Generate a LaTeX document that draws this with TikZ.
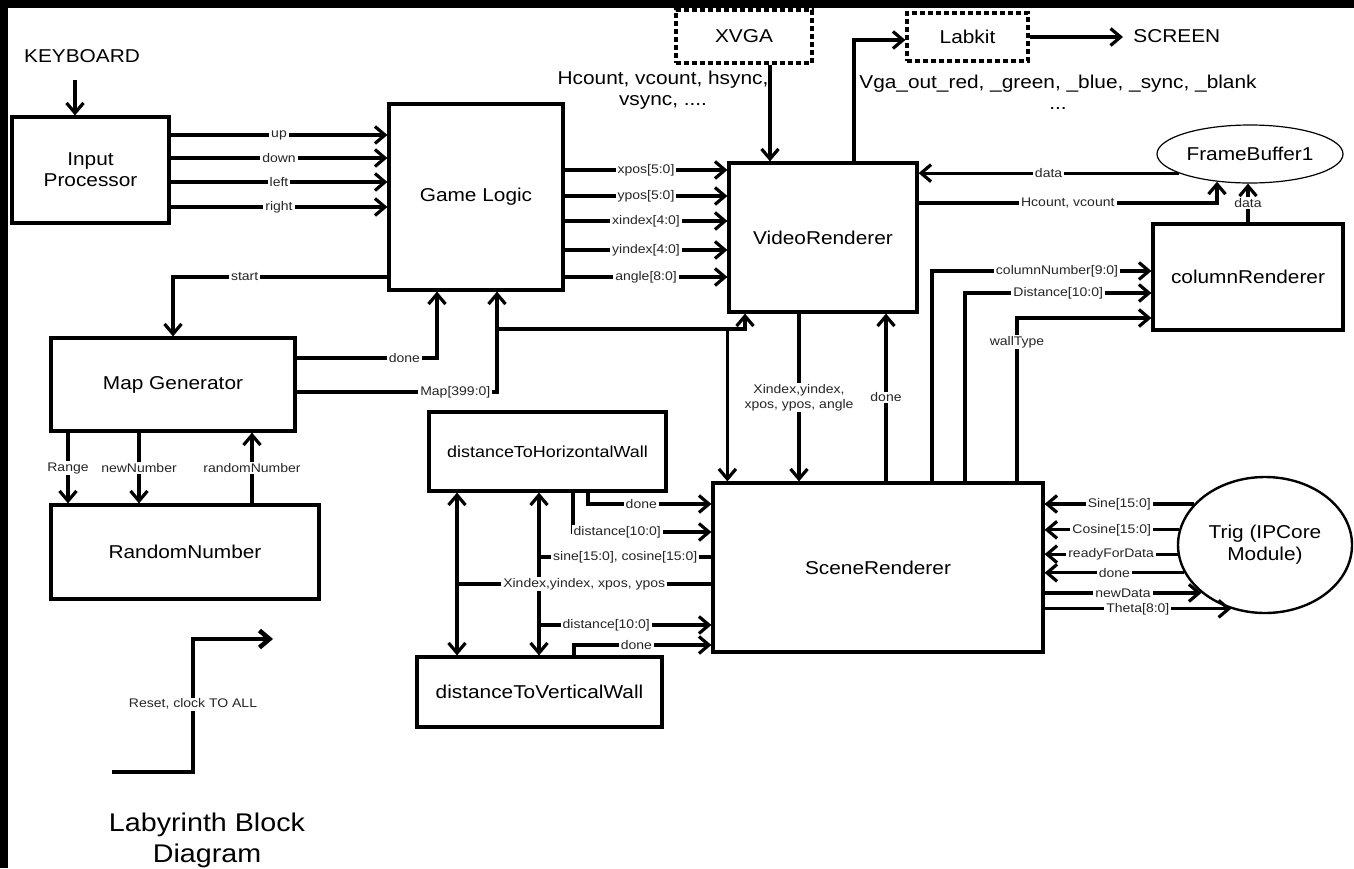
\documentclass[tikz,border=0pt]{standalone}
\usepackage{fontspec}
\setmainfont{Liberation Sans}[FakeStretch=1.12]
\usetikzlibrary{arrows.meta,shapes.geometric}
\newcommand\fbig{\fontsize{9.3}{10.5}\selectfont}
\newcommand\fsmall{\fontsize{6.25}{7.5}\selectfont}
\tikzset{
  box/.style={draw, line width=1.6pt, inner sep=0pt, align=center, font=\fbig},
  dbox/.style={draw, line width=1.6pt, dash pattern=on 2.5pt off 1.5pt, inner sep=0pt, font=\fbig},
  txt/.style={inner sep=0pt, font=\fbig},
  lab/.style={fill=white, inner xsep=1pt, inner ysep=0.6pt, font=\fsmall, text=black!85},
  arr/.style={line width=1.6pt, -{Straight Barb[length=5pt,width=8.5pt]}},
  dblarr/.style={line width=1.6pt, {Straight Barb[length=5pt,width=8.5pt]}-{Straight Barb[length=5pt,width=8.5pt]}},
  wire/.style={line width=1.6pt},
}
\begin{document}
\begin{tikzpicture}[x=0.5pt,y=-0.5pt]
\fill[white] (0,0) rectangle (1354,868);
\useasboundingbox (0,0) rectangle (1354,868);
\fill[black] (0,0) rectangle (1354,8);
\fill[black] (0,0) rectangle (8,868);

% blocks
\node[box, minimum width=78.5pt, minimum height=53pt] (inp) at (90.5,170) {Input\\Processor};
\node[box, minimum width=87pt, minimum height=93pt] (game) at (476,197) {Game Logic};
\node[box, minimum width=122pt, minimum height=46.5pt] (mapg) at (173,384.5) {Map Generator};
\node[box, minimum width=134pt, minimum height=47pt] (rand) at (185,552) {RandomNumber};
\node[box, minimum width=94pt, minimum height=74.5pt] (video) at (823,237.5) {VideoRenderer};
\node[dbox, minimum width=68pt, minimum height=26.5pt] (xvga) at (744,36.5) {XVGA};
\node[dbox, minimum width=60.5pt, minimum height=24pt] (labkit) at (967.5,37) {Labkit};
\node[ellipse, draw, line width=0.6pt, minimum width=93pt, minimum height=29pt, inner sep=0pt, font=\fbig] (fb) at (1250,154) {FrameBuffer1};
\node[box, minimum width=95pt, minimum height=53pt] (col) at (1248,277) {columnRenderer};
\node[box, minimum width=165pt, minimum height=84.5pt] (scene) at (878,567.5) {SceneRenderer};
\node[ellipse, draw, line width=1.2pt, minimum width=87pt, minimum height=68pt, inner sep=0pt, align=center, font=\fontsize{9.3}{11}\selectfont] (trig) at (1265,545) {Trig (IPCore\\Module)};
\node[box, minimum width=118.5pt, minimum height=39.5pt, font=\fontsize{8}{9}\selectfont] (dth) at (547.5,451.5) {distanceToHorizontalWall};
\node[box, minimum width=122.5pt, minimum height=35pt] (dtv) at (539.5,692) {distanceToVerticalWall};

% free texts
\node[txt] (kb) at (82,56) {KEYBOARD};
\node[txt, anchor=west, inner xsep=5pt] (scr) at (1123,36) {SCREEN};
\node[txt, align=center] (hc) at (663,90) {Hcount, vcount, hsync,\\vsync, ....};
\node[txt, align=center] (vga) at (1058,92.5) {Vga\_out\_red, \_green, \_blue, \_sync, \_blank\\...};
\node[inner sep=0pt, align=center, font=\fontsize{12.8}{15.5}\selectfont] (title) at (207,840) {Labyrinth Block\\Diagram};

% keyboard and input processor
\draw[arr] ([xshift=-3.5pt,yshift=-8.5pt]kb.south) -- ([xshift=-3.5pt]kb.south |- inp.north);
\draw[arr] (inp.east |- 0,135) -- node[lab]{up} (game.west |- 0,135);
\draw[arr] (inp.east |- 0,158) -- node[lab]{down} (game.west |- 0,158);
\draw[arr] (inp.east |- 0,182) -- node[lab]{left} (game.west |- 0,182);
\draw[arr] (inp.east |- 0,207) -- node[lab]{right} (game.west |- 0,207);

% game logic and map generator
\draw[arr] (game.west |- 0,277) -| node[lab,pos=0.333]{start} (mapg.north);
\draw[arr] (mapg.east |- 0,358) -| node[lab,pos=0.384]{done} (game.south -| 437,0);
\draw[arr] (mapg.east |- 0,392) -| node[lab,pos=0.396]{Map[399:0]} (game.south -| 497,0);
\coordinate (mapj) at (497,329);
\draw[arr] (mapj) -| (video.south -| 745,0);
\draw[arr] (video.south west |- mapj) -- (video.south west |- scene.north);

% game logic to video renderer
\draw[arr] (game.east |- 0,170) -- node[lab]{xpos[5:0]} (video.west |- 0,170);
\draw[arr] (game.east |- 0,196) -- node[lab]{ypos[5:0]} (video.west |- 0,196);
\draw[arr] (game.east |- 0,221) -- node[lab]{xindex[4:0]} (video.west |- 0,221);
\draw[arr] (game.east |- 0,250) -- node[lab]{yindex[4:0]} (video.west |- 0,250);
\draw[arr] (game.east |- 0,277) -- node[lab]{angle[8:0]} (video.west |- 0,277);

% XVGA, Labkit
\draw[arr] (xvga.south -| 770,0) -- (video.north -| 770,0);
\draw[arr] (video.north -| 854,0) |- (labkit.west |- 0,40);
\draw[arr] (labkit.east) -- (scr.west |- labkit.east);

% frame buffer
\draw[arr] (fb.195) -- node[lab]{data} (video.east |- fb.195);
\draw[arr] (video.east |- 0,203) -| node[lab,pos=0.25]{Hcount, vcount} (fb.220);
\draw[arr] (col.north) -- node[lab]{data} (col.north |- fb.south);

% scene renderer to column renderer
\draw[arr] (scene.north -| 932,0) |- node[lab,pos=0.785]{columnNumber[9:0]} (col.west |- 0,271);
\draw[arr] (scene.north -| 965,0) |- node[lab,pos=0.75]{Distance[10:0]} (col.west |- 0,293);
\draw[arr] (scene.north -| 1017,0) |- node[lab,pos=0.427]{wallType} (col.west |- 0,318);

% video <-> scene
\draw[arr] (scene.north -| 886,0) -- node[lab]{done} (video.south -| 886,0);
\draw[arr] (video.south -| 799,0) -- node[lab,align=center]{Xindex,yindex,\\xpos, ypos, angle} (scene.north -| 799,0);

% trig
\draw[arr] (trig.150) -- node[lab]{Sine[15:0]} (scene.east |- trig.150);
\draw[arr] (trig.170) -- node[lab]{Cosine[15:0]} (scene.east |- trig.170);
\draw[arr] (trig.186) -- node[lab]{readyForData} (scene.east |- trig.186);
\draw[arr] (trig.199) -- node[lab]{done} (scene.east |- trig.199);
\draw[arr] (scene.east |- trig.217) -- node[lab]{newData} (trig.217);
\draw[arr] (scene.east |- trig.242) -- node[lab]{Theta[8:0]} (trig.242);

% distance modules
\coordinate (b1) at (457,0);
\coordinate (b2) at (539,0);
\draw[dblarr] (dth.south -| b1) -- (dtv.north -| b1);
\draw[dblarr] (dth.south -| b2) -- (dtv.north -| b2);
\draw[arr] (dth.south -| 588,0) |- node[lab,pos=0.716]{done} (scene.west |- 0,504);
\draw[arr] (dth.south -| 573,0) |- node[lab,pos=0.66]{distance[10:0]} (scene.west |- 0,532);
\draw[wire] (scene.west |- 0,557) -- node[lab]{sine[15:0], cosine[15:0]} (b2 |- 0,557);
\draw[wire] (scene.west |- 0,584) -- node[lab]{Xindex,yindex, xpos, ypos} (b1 |- 0,584);
\draw[arr] (b2 |- 0,625) -- node[lab,pos=0.39]{distance[10:0]} (scene.west |- 0,625);
\draw[arr] (dtv.north -| 574,0) |- node[lab,pos=0.727]{done} (scene.west |- 0,645);

% map generator <-> random number
\draw[arr] (mapg.south -| 68,0) -- node[lab]{Range} (rand.north -| 68,0);
\draw[arr] (mapg.south -| 139,0) -- node[lab]{newNumber} (rand.north -| 139,0);
\draw[arr] (rand.north -| 252,0) -- node[lab]{randomNumber} (mapg.south -| 252,0);

% reset
\coordinate (r0) at (112,772);
\coordinate (r2) at (273,639);
\draw[arr, line width=2.3pt] (r0) -| node[lab,pos=0.755]{Reset, clock TO ALL} (r2 -| 193,0) -- (r2);
\end{tikzpicture}
\end{document}
